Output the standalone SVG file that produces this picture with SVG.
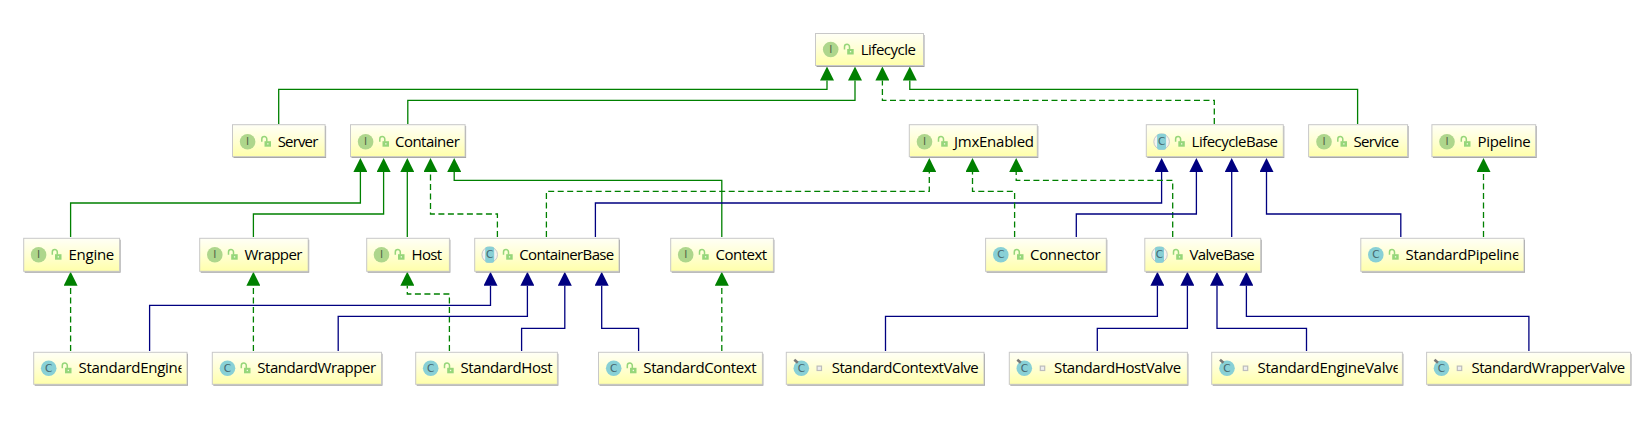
<svg xmlns="http://www.w3.org/2000/svg" xmlns:xlink="http://www.w3.org/1999/xlink" width="1652" height="426" viewBox="0 0 1652 426">
<style>
.sh{fill:#a0a0a0}
.b{fill:url(#boxg);stroke:#c8c8c8;stroke-width:1}
.t{font-family:"Open Sans","Noto Sans","Liberation Sans",sans-serif;font-size:15px;fill:#000}
.il{font-family:"DejaVu Sans",sans-serif;font-size:10.5px;text-anchor:middle}
.c{fill:none;stroke-width:1.3}
.gs{stroke:#008000;marker-end:url(#ag)}
.gd{stroke:#008000;stroke-dasharray:6 3.5;marker-end:url(#ag)}
.ns{stroke:#000080;marker-end:url(#an)}
</style>
<defs>
<linearGradient id="boxg" x1="0" y1="0" x2="0" y2="1"><stop offset="0" stop-color="#fffff6"/><stop offset="0.55" stop-color="#ffffd0"/><stop offset="1" stop-color="#ffffaa"/></linearGradient>
<marker id="ag" markerUnits="userSpaceOnUse" markerWidth="14" markerHeight="14" refX="0" refY="7" orient="auto" viewBox="0 0 14 14"><path d="M0,0L14,7L0,14Z" fill="#008000"/></marker>
<marker id="an" markerUnits="userSpaceOnUse" markerWidth="14" markerHeight="14" refX="0" refY="7" orient="auto" viewBox="0 0 14 14"><path d="M0,0L14,7L0,14Z" fill="#000080"/></marker>
<g id="iI"><circle r="7.8" fill="#aed68c"/><text class="il" y="3.7" fill="#55664a">I</text></g>
<g id="iC"><circle r="7.8" fill="#88d0d6"/><text class="il" y="3.7" fill="#46666c">C</text></g>
<g id="iA"><circle r="7.8" fill="#f4f4f0" stroke="#c8c8c8" stroke-width="1"/><rect x="-4.5" y="-8" width="9" height="16" rx="2" fill="#88d0d6"/><text class="il" y="3.7" fill="#46666c">C</text></g>
<g id="iV"><circle r="7.8" fill="#88d0d6"/><path d="M-7,-8.5L-3.5,-5.5" stroke="#777" stroke-width="2.6"/><text class="il" y="3.7" fill="#46666c">C</text></g>
<g id="lk"><path d="M-4.2,0V-2.7A2.5,2.5 0 0 1 0.8,-2.7V0" fill="none" stroke="#96d67a" stroke-width="1.5"/><rect x="-1.5" y="-0.5" width="6.5" height="5.5" fill="#96d67a"/><rect x="1.2" y="1.5" width="1.3" height="1.3" fill="#f4fbe0"/></g>
<g id="sq"><rect x="-2.2" y="-2.2" width="4.4" height="4.4" fill="#eeeeee" stroke="#bcbcbc" stroke-width="1.2"/></g>
<clipPath id="cEngine"><rect x="78" y="352" width="103.5" height="33"/></clipPath>
<clipPath id="cPipe"><rect x="1405" y="238" width="113.3" height="34"/></clipPath>
<clipPath id="cEV"><rect x="1257" y="352" width="140.7" height="33"/></clipPath>
</defs>
<rect width="1652" height="426" fill="#ffffff"/>
<g id="connectors">
<path class="c gs" d="M278.7,124V89.3H827V80.5"/>
<path class="c gs" d="M407.8,124V100.3H855V80.5"/>
<path class="c gd" d="M1214.3,124V100.3H882.4V80.5"/>
<path class="c gs" d="M1357.6,124V89.3H909.8V80.5"/>
<path class="c gs" d="M70.6,237V203H360.4V172"/>
<path class="c gs" d="M253.4,237V214H383.6V172"/>
<path class="c gs" d="M407.3,237V172"/>
<path class="c gd" d="M497.4,237V214H430.5V172"/>
<path class="c gs" d="M721.8,237V180.3H454.2V172"/>
<path class="c gd" d="M546.4,237V191.3H929.3V172"/>
<path class="c ns" d="M595.4,237V203H1161.6V172"/>
<path class="c gd" d="M1014.6,237V191.3H972.5V172"/>
<path class="c gd" d="M1172.7,237V180.3H1016.2V172"/>
<path class="c ns" d="M1076.3,237V214H1196.4V172"/>
<path class="c ns" d="M1231.7,237V172"/>
<path class="c ns" d="M1400.8,237V214H1266.5V172"/>
<path class="c gd" d="M1483.5,237V172"/>
<path class="c gd" d="M70.6,351V285.7"/>
<path class="c gd" d="M253.4,351V285.7"/>
<path class="c gd" d="M449.4,351V294H407.3V285.7"/>
<path class="c ns" d="M149.6,351V305.3H490.5V285.7"/>
<path class="c ns" d="M338.2,351V316.3H527.4V285.7"/>
<path class="c ns" d="M521.6,351V328.3H564.8V285.7"/>
<path class="c ns" d="M638.6,351V328.3H601.7V285.7"/>
<path class="c gd" d="M721.8,351V285.7"/>
<path class="c ns" d="M885.5,351V316.3H1157.4V285.7"/>
<path class="c ns" d="M1097.3,351V328.3H1187.4V285.7"/>
<path class="c ns" d="M1306.5,351V328.3H1217V285.7"/>
<path class="c ns" d="M1528.9,351V316.3H1246.4V285.7"/>
</g>
<g id="Lifecycle"><rect class="sh" x="816.5" y="35" width="108" height="32"/><rect class="b" x="815.5" y="33.5" width="108" height="32"/><use href="#iI" x="830.7" y="49.5"/><use href="#lk" x="848.7" y="49.5"/><text class="t" x="860.7" y="54.5" textLength="55.3">Lifecycle</text></g>
<g id="Server"><rect class="sh" x="233.5" y="126" width="92.6" height="32"/><rect class="b" x="232.5" y="124.7" width="92.6" height="32"/><use href="#iI" x="247.6" y="141.7"/><use href="#lk" x="266" y="141.7"/><text class="t" x="277.7" y="146.7" textLength="40.6">Server</text></g>
<g id="Container"><rect class="sh" x="351.5" y="126" width="114.6" height="32"/><rect class="b" x="350.5" y="124.7" width="114.6" height="32"/><use href="#iI" x="365.6" y="141.7"/><use href="#lk" x="384" y="141.7"/><text class="t" x="395" y="146.7" textLength="64.8">Container</text></g>
<g id="JmxEnabled"><rect class="sh" x="910.3" y="126" width="128" height="32"/><rect class="b" x="909.3" y="124.7" width="128" height="32"/><use href="#iI" x="924.5" y="141.7"/><use href="#lk" x="942.7" y="141.7"/><text class="t" x="954" y="146.7" textLength="80">JmxEnabled</text></g>
<g id="LifecycleBase"><rect class="sh" x="1147.3" y="126" width="137" height="32"/><rect class="b" x="1146.3" y="124.7" width="137" height="32"/><use href="#iA" x="1161.6" y="141.7"/><use href="#lk" x="1179.8" y="141.7"/><text class="t" x="1191.6" y="146.7" textLength="86.4">LifecycleBase</text></g>
<g id="Service"><rect class="sh" x="1309.6" y="126" width="99" height="32"/><rect class="b" x="1308.6" y="124.7" width="99" height="32"/><use href="#iI" x="1324" y="141.7"/><use href="#lk" x="1342" y="141.7"/><text class="t" x="1353.4" y="146.7" textLength="45.8">Service</text></g>
<g id="Pipeline"><rect class="sh" x="1432.9" y="126" width="103.8" height="32"/><rect class="b" x="1431.9" y="124.7" width="103.8" height="32"/><use href="#iI" x="1447" y="141.7"/><use href="#lk" x="1465.5" y="141.7"/><text class="t" x="1477.6" y="146.7" textLength="53.2">Pipeline</text></g>
<g id="Engine"><rect class="sh" x="24.7" y="239.7" width="95.9" height="33"/><rect class="b" x="23.7" y="238.3" width="95.9" height="33"/><use href="#iI" x="38.6" y="254.7"/><use href="#lk" x="56.5" y="254.7"/><text class="t" x="68.5" y="259.7" textLength="45.8">Engine</text></g>
<g id="Wrapper"><rect class="sh" x="200.7" y="239.7" width="108.5" height="33"/><rect class="b" x="199.7" y="238.3" width="108.5" height="33"/><use href="#iI" x="214.8" y="254.7"/><use href="#lk" x="232.7" y="254.7"/><text class="t" x="244.5" y="259.7" textLength="58">Wrapper</text></g>
<g id="Host"><rect class="sh" x="367.7" y="239.7" width="82.7" height="33"/><rect class="b" x="366.7" y="238.3" width="82.7" height="33"/><use href="#iI" x="381.5" y="254.7"/><use href="#lk" x="399.5" y="254.7"/><text class="t" x="411.5" y="259.7" textLength="30.6">Host</text></g>
<g id="ContainerBase"><rect class="sh" x="475.7" y="239.7" width="144.3" height="33"/><rect class="b" x="474.7" y="238.3" width="144.3" height="33"/><use href="#iA" x="489.7" y="254.7"/><use href="#lk" x="507.7" y="254.7"/><text class="t" x="519.3" y="259.7" textLength="95">ContainerBase</text></g>
<g id="Context"><rect class="sh" x="671.7" y="239.7" width="102.7" height="33"/><rect class="b" x="670.7" y="238.3" width="102.7" height="33"/><use href="#iI" x="685.7" y="254.7"/><use href="#lk" x="703.7" y="254.7"/><text class="t" x="715.5" y="259.7" textLength="51.6">Context</text></g>
<g id="Connector"><rect class="sh" x="986.6" y="239.7" width="120.7" height="33"/><rect class="b" x="985.6" y="238.3" width="120.7" height="33"/><use href="#iC" x="1000.8" y="254.7"/><use href="#lk" x="1018.5" y="254.7"/><text class="t" x="1030" y="259.7" textLength="70.6">Connector</text></g>
<g id="ValveBase"><rect class="sh" x="1145.8" y="239.7" width="115.9" height="33"/><rect class="b" x="1144.8" y="238.3" width="115.9" height="33"/><use href="#iA" x="1159.5" y="254.7"/><use href="#lk" x="1177.7" y="254.7"/><text class="t" x="1189.5" y="259.7" textLength="65.3">ValveBase</text></g>
<g id="StandardPipeline"><rect class="sh" x="1361.8" y="239.7" width="163.2" height="33"/><rect class="b" x="1360.8" y="238.3" width="163.2" height="33"/><use href="#iC" x="1375.8" y="254.7"/><use href="#lk" x="1393.7" y="254.7"/><g clip-path="url(#cPipe)"><text class="t" x="1405.6" y="259.7" textLength="114.8">StandardPipeline</text></g></g>
<g id="StandardEngine"><rect class="sh" x="34.7" y="353.7" width="153.3" height="32"/><rect class="b" x="33.7" y="352.3" width="153.3" height="32"/><use href="#iC" x="48.7" y="368.3"/><use href="#lk" x="66.5" y="368.3"/><g clip-path="url(#cEngine)"><text class="t" x="78.5" y="373.3" textLength="107.4">StandardEngine</text></g></g>
<g id="StandardWrapper"><rect class="sh" x="213.3" y="353.7" width="169.2" height="32"/><rect class="b" x="212.3" y="352.3" width="169.2" height="32"/><use href="#iC" x="227.5" y="368.3"/><use href="#lk" x="245.5" y="368.3"/><text class="t" x="257.2" y="373.3" textLength="119">StandardWrapper</text></g>
<g id="StandardHost"><rect class="sh" x="416.7" y="353.7" width="141.7" height="32"/><rect class="b" x="415.7" y="352.3" width="141.7" height="32"/><use href="#iC" x="430.7" y="368.3"/><use href="#lk" x="448.7" y="368.3"/><text class="t" x="460.5" y="373.3" textLength="92.2">StandardHost</text></g>
<g id="StandardContext"><rect class="sh" x="599.5" y="353.7" width="163.9" height="32"/><rect class="b" x="598.5" y="352.3" width="163.9" height="32"/><use href="#iC" x="613.7" y="368.3"/><use href="#lk" x="631.5" y="368.3"/><text class="t" x="643.3" y="373.3" textLength="113.3">StandardContext</text></g>
<g id="StandardContextValve"><rect class="sh" x="787.3" y="353.7" width="197.7" height="32"/><rect class="b" x="786.3" y="352.3" width="197.7" height="32"/><use href="#iV" x="801.3" y="368.3"/><use href="#sq" x="819.3" y="368.3"/><text class="t" x="831.7" y="373.3" textLength="147">StandardContextValve</text></g>
<g id="StandardHostValve"><rect class="sh" x="1010.3" y="353.7" width="178.1" height="32"/><rect class="b" x="1009.3" y="352.3" width="178.1" height="32"/><use href="#iV" x="1024.3" y="368.3"/><use href="#sq" x="1042.5" y="368.3"/><text class="t" x="1054.1" y="373.3" textLength="127">StandardHostValve</text></g>
<g id="StandardEngineValve"><rect class="sh" x="1212.7" y="353.7" width="190.7" height="32"/><rect class="b" x="1211.7" y="352.3" width="190.7" height="32"/><use href="#iV" x="1227" y="368.3"/><use href="#sq" x="1245.5" y="368.3"/><g clip-path="url(#cEV)"><text class="t" x="1257.5" y="373.3" textLength="143.4">StandardEngineValve</text></g></g>
<g id="StandardWrapperValve"><rect class="sh" x="1427.6" y="353.7" width="203.9" height="32"/><rect class="b" x="1426.6" y="352.3" width="203.9" height="32"/><use href="#iV" x="1441.5" y="368.3"/><use href="#sq" x="1459.5" y="368.3"/><text class="t" x="1471.4" y="373.3" textLength="153.8">StandardWrapperValve</text></g>
</svg>
